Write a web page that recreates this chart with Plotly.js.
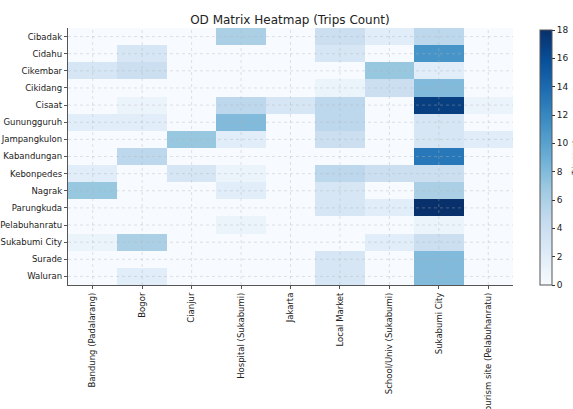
<!DOCTYPE html>
<html><head><meta charset="utf-8">
<script src="https://cdn.plot.ly/plotly-3.0.1.min.js"></script>
<style>html,body{margin:0;padding:0;background:#fff;}</style>
</head><body>
<div id="chart" style="width:573px;height:409px;"></div>
<script>
const origins = ["Cibadak","Cidahu","Cikembar","Cikidang","Cisaat","Gunungguruh","Jampangkulon","Kabandungan","Kebonpedes","Nagrak","Parungkuda","Pelabuhanratu","Sukabumi City","Surade","Waluran"];
const destinations = ["Bandung (Padalarang)","Bogor","Cianjur","Hospital (Sukabumi)","Jakarta","Local Market","School/Univ (Sukabumi)","Sukabumi City","Tourism site (Pelabuhanratu)"];
// rows = origins, columns = destinations
const cibadak      = [0,0,0,6,0,4,2,5,0];
const cidahu       = [0,3,0,0,0,3,0,11,0];
const cikembar     = [3,4,0,0,0,0,7,2,0];
const cikidang     = [0,0,0,0,0,1,4,8,0];
const cisaat       = [0,1,0,5,3,5,0,17,1];
const gunungguruh  = [2,2,0,8,0,5,0,3,0];
const jampangkulon = [0,0,7,2,0,4,0,3,2];
const kabandungan  = [0,5,0,0,0,0,0,13,0];
const kebonpedes   = [2,0,3,1,0,5,4,4,0];
const nagrak       = [7,0,0,2,0,3,0,6,0];
const parungkuda   = [0,0,0,0,0,3,2,18,0];
const pelabuhanratu= [0,0,0,1,0,0,0,1,0];
const sukabumiCity = [1,6,0,0,0,0,2,4,0];
const surade       = [0,0,0,0,0,3,0,8,0];
const waluran      = [0,2,0,0,0,3,0,8,0];
const colorTicks = [0,2,4,6,8,10,12,14,16,18];

const z = [cibadak,cidahu,cikembar,cikidang,cisaat,gunungguruh,jampangkulon,kabandungan,kebonpedes,nagrak,parungkuda,pelabuhanratu,sukabumiCity,surade,waluran];

const blues = [[0,'#f7fbff'],[0.125,'#deebf7'],[0.25,'#c6dbef'],[0.375,'#9ecae1'],[0.5,'#6baed6'],[0.625,'#4292c6'],[0.75,'#2171b5'],[0.875,'#08519c'],[1,'#08306b']];

const shapes = [];
const gl = {color:'rgba(180,180,180,0.55)',width:0.7,dash:'dot'};
destinations.forEach((d,i)=>shapes.push({type:'line',xref:'x',yref:'paper',x0:i,x1:i,y0:0,y1:1,layer:'above',line:gl}));
origins.forEach((o,j)=>shapes.push({type:'line',xref:'paper',yref:'y',x0:0,x1:1,y0:j,y1:j,layer:'above',line:gl}));

const font = "DejaVu Sans, sans-serif";
Plotly.newPlot('chart',[{
  type:'heatmap', x:destinations, y:origins, z:z, zmin:0, zmax:18,
  colorscale:blues, showscale:true, xgap:0, ygap:0,
  colorbar:{x:1.061, xanchor:'left', xpad:0, ypad:0, y:0, yanchor:'bottom', len:0.992, lenmode:'fraction', thickness:12,
    outlinewidth:1, outlinecolor:'#555', tickvals:colorTicks, ticks:'outside', ticklen:3, tickcolor:'#333',
    tickfont:{family:font,size:9,color:'#222'},
    title:{text:'Trip count', side:'right', font:{family:font,size:7,color:'#222'}}}
}],{
  width:573, height:409,
  margin:{l:68,r:60,t:28,b:124,pad:0,autoexpand:false},
  paper_bgcolor:'#fff', plot_bgcolor:'#f7fbff',
  title:{text:'OD Matrix Heatmap (Trips Count)', x:0.506, xanchor:'center', y:0.951, yanchor:'middle', font:{family:font,size:12,color:'#222'}},
  xaxis:{type:'category', tickangle:-90, tickfont:{family:font,size:8.5,color:'#222'}, showgrid:false, showline:true, linecolor:'#555', linewidth:1.2, ticks:'outside', ticklen:3, tickcolor:'#555', zeroline:false, automargin:false},
  yaxis:{type:'category', autorange:'reversed', tickfont:{family:font,size:8.5,color:'#222'}, showgrid:false, showline:true, linecolor:'#555', linewidth:1.2, ticks:'outside', ticklen:3, tickcolor:'#555', zeroline:false, automargin:false},
  shapes:shapes
},{displayModeBar:false, staticPlot:true});
</script>
</body></html>
